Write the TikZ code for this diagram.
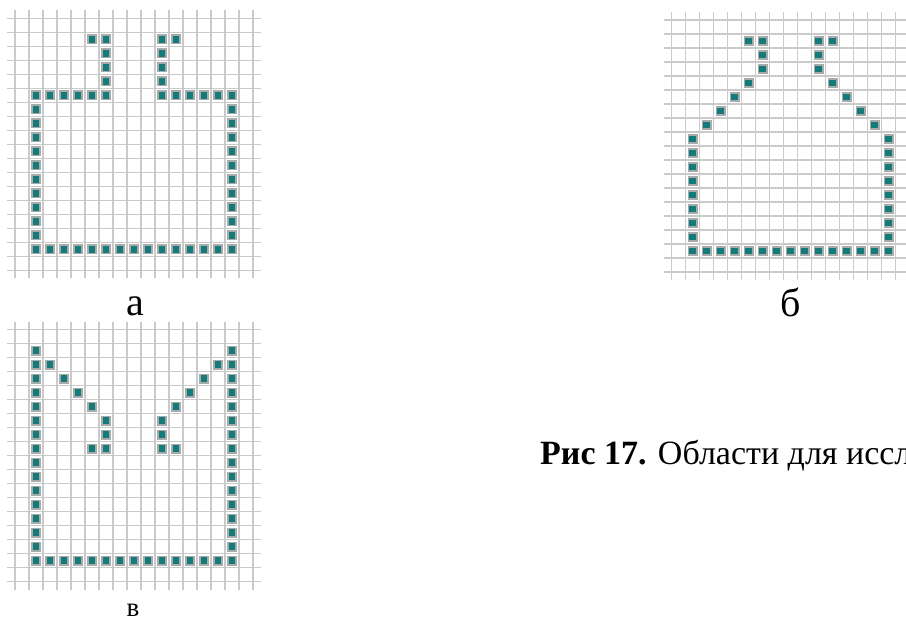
\documentclass[tikz,border=0pt]{standalone}
\usepackage{fontspec}
\setmainfont{Liberation Serif}
\usepackage{tikz}
\definecolor{gdTeal}{HTML}{147A7A}
\definecolor{gdRim}{HTML}{A8ABAB}
\definecolor{gdLine}{HTML}{CACACA}
\tikzset{
  grid line/.style={draw=gdLine,line width=1.3pt},
  pixel/.style={fill=gdTeal,draw=gdRim,line width=1.6pt},
  panel label/.style={inner sep=0pt,anchor=base,font=\fontsize{40}{40}\selectfont},
  caption text/.style={inner sep=0pt,anchor=base west,font=\fontsize{34}{34}\selectfont}
}

\begin{document}
\begin{tikzpicture}[x=1pt,y=-1pt]
\useasboundingbox[fill=white] (0,0) rectangle (906,621);

% panel a
\begin{scope}[shift={(15,18.3)}]
  \foreach \k in {0,...,17} \draw[grid line] (14*\k,-8) -- (14*\k,260);
  \foreach \j in {0,...,18} \draw[grid line] (-8,14*\j) -- (246,14*\j);
  \foreach \c in {1,...,15} \draw[pixel] (14*\c+2.8,16*14+2.8) rectangle +(8.4,8.4);
  \foreach \r in {5,...,15} {
    \draw[pixel] (14+2.8,14*\r+2.8) rectangle +(8.4,8.4);
    \draw[pixel] (15*14+2.8,14*\r+2.8) rectangle +(8.4,8.4);
  }
  \foreach \c/\r in {2/5,3/5,4/5,5/5,6/5,10/5,11/5,12/5,13/5,14/5,
                     6/1,6/2,6/3,6/4,10/1,10/2,10/3,10/4,5/1,11/1}
    \draw[pixel] (14*\c+2.8,14*\r+2.8) rectangle +(8.4,8.4);
\end{scope}
\node[panel label] (lblA) at (135,315) {а};

% panel b
\begin{scope}[shift={(671.7,20)}]
  \foreach \k in {0,...,17} \draw[grid line] (14*\k,-8) -- (14*\k,260);
  \foreach \j in {0,...,18} \draw[grid line] (-8,14*\j) -- (246,14*\j);
  \foreach \c in {1,...,15} \draw[pixel] (14*\c+2.8,16*14+2.8) rectangle +(8.4,8.4);
  \foreach \r in {8,...,15} {
    \draw[pixel] (14+2.8,14*\r+2.8) rectangle +(8.4,8.4);
    \draw[pixel] (15*14+2.8,14*\r+2.8) rectangle +(8.4,8.4);
  }
  \foreach \c/\r in {5/1,6/1,6/2,6/3,5/4,4/5,3/6,2/7,
                     11/1,10/1,10/2,10/3,11/4,12/5,13/6,14/7}
    \draw[pixel] (14*\c+2.8,14*\r+2.8) rectangle +(8.4,8.4);
\end{scope}
\node[panel label] (lblB) at (791,316.5) {б};

% panel v
\begin{scope}[shift={(15,329.7)}]
  \foreach \k in {0,...,17} \draw[grid line] (14*\k,-8) -- (14*\k,260);
  \foreach \j in {0,...,18} \draw[grid line] (-8,14*\j) -- (246,14*\j);
  \foreach \c in {1,...,15} \draw[pixel] (14*\c+2.8,16*14+2.8) rectangle +(8.4,8.4);
  \foreach \r in {1,...,15} {
    \draw[pixel] (14+2.8,14*\r+2.8) rectangle +(8.4,8.4);
    \draw[pixel] (15*14+2.8,14*\r+2.8) rectangle +(8.4,8.4);
  }
  \foreach \c/\r in {2/2,3/3,4/4,5/5,6/6,6/7,6/8,5/8,
                     14/2,13/3,12/4,11/5,10/6,10/7,10/8,11/8}
    \draw[pixel] (14*\c+2.8,14*\r+2.8) rectangle +(8.4,8.4);
\end{scope}
\node[panel label,font=\fontsize{27}{27}\selectfont] (lblV) at (133,616) {в};

\node[caption text] (capt) at (540,464) {\textbf{Рис 17.} Области для иссл};
\end{tikzpicture}
\end{document}
